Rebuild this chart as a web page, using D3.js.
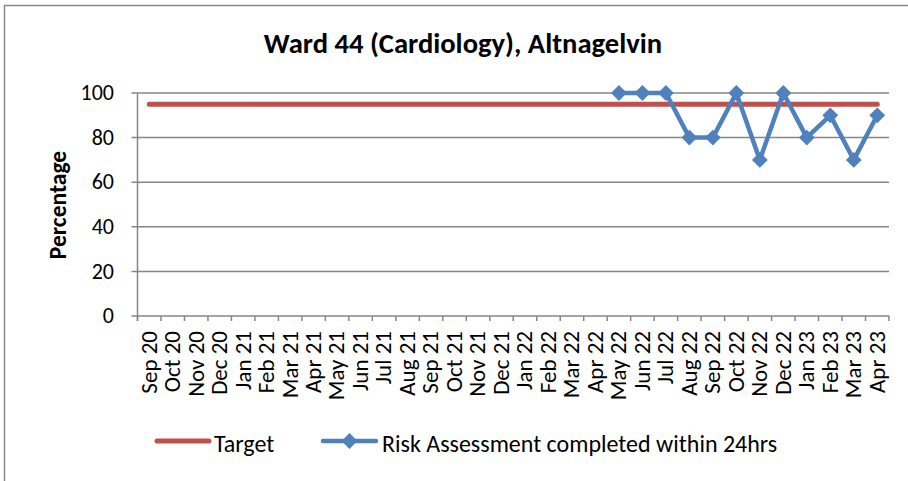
<!DOCTYPE html>
<html><head><meta charset="utf-8">
<script src="https://cdn.jsdelivr.net/npm/d3@7/dist/d3.min.js"></script>
<style>
body{margin:0;background:#fff;}
svg{display:block;}
text{font-family:"Carlito","Calibri","Lato",sans-serif;fill:#000;}
</style></head>
<body><svg id="chart" width="908" height="481"></svg>
<script>
const months = ["Sep 20","Oct 20","Nov 20","Dec 20","Jan 21","Feb 21","Mar 21","Apr 21","May 21","Jun 21","Jul 21","Aug 21","Sep 21","Oct 21","Nov 21","Dec 21","Jan 22","Feb 22","Mar 22","Apr 22","May 22","Jun 22","Jul 22","Aug 22","Sep 22","Oct 22","Nov 22","Dec 22","Jan 23","Feb 23","Mar 23","Apr 23"];
const targetValues = months.map(() => 95);
const riskMonths = ["May 22","Jun 22","Jul 22","Aug 22","Sep 22","Oct 22","Nov 22","Dec 22","Jan 23","Feb 23","Mar 23","Apr 23"];
const riskValues = [100,100,100,80,80,100,70,100,80,90,70,90];
const yTicks = [0,20,40,60,80,100];
const titleText = "Ward 44 (Cardiology), Altnagelvin";
const yTitle = "Percentage";
const legendLabels = ["Target","Risk Assessment completed within 24hrs"];

const svg = d3.select("#chart");
const red = "#C0504D", blue = "#4F81BD", grid = "#868686";

svg.append("rect").attr("x",4.5).attr("y",5.5).attr("width",920).attr("height",490)
  .attr("fill","#fff").attr("stroke","#898989").attr("stroke-width",1.5);

const pLeft = 137.5, pRight = 889, pTop = 93, pBottom = 316;
const x = d3.scaleBand().domain(months).range([pLeft,pRight]);
const y = d3.scaleLinear().domain([0,100]).range([pBottom,pTop]);

svg.append("g").selectAll("line").data(yTicks).join("line")
  .attr("x1",pLeft-6).attr("x2",pRight).attr("y1",d=>y(d)).attr("y2",d=>y(d))
  .attr("stroke",grid).attr("stroke-width",1.5);
svg.append("line").attr("x1",pLeft).attr("x2",pLeft).attr("y1",pTop).attr("y2",pBottom+5)
  .attr("stroke",grid).attr("stroke-width",1.5);
const tickPos = months.map(m=>x(m)).concat([pRight]);
svg.append("g").selectAll("line").data(tickPos).join("line")
  .attr("x1",d=>d).attr("x2",d=>d).attr("y1",pBottom).attr("y2",pBottom+5)
  .attr("stroke",grid).attr("stroke-width",1.5);

svg.append("g").selectAll("text").data(yTicks).join("text")
  .attr("x",114).attr("y",d=>y(d)).attr("dy","0.33em").attr("text-anchor","end")
  .style("font-size","22px").text(d=>d);

svg.append("g").selectAll("text").data(months).join("text")
  .attr("transform",d=>`translate(${x(d)+x.bandwidth()/2},331) rotate(-90)`)
  .attr("dy","0.32em").attr("text-anchor","end").style("font-size","23px").text(d=>d);

svg.append("text").attr("x",463).attr("y",53).attr("text-anchor","middle")
  .style("font-size","28.6px").style("font-weight","bold").text(titleText);
svg.append("text").attr("transform","translate(66,205) rotate(-90)").attr("text-anchor","middle")
  .style("font-size","23.5px").style("font-weight","bold").text(yTitle);

const cx = m => x(m)+x.bandwidth()/2;
svg.append("path").datum(months)
  .attr("d",d3.line().x(m=>cx(m)).y((m,i)=>y(targetValues[i])))
  .attr("fill","none").attr("stroke",red).attr("stroke-width",5).attr("stroke-linecap","round");

svg.append("path").datum(riskMonths)
  .attr("d",d3.line().x(m=>cx(m)).y((m,i)=>y(riskValues[i])))
  .attr("fill","none").attr("stroke",blue).attr("stroke-width",4.5).attr("stroke-linejoin","round");
const diamond = d3.symbol().type(d3.symbolSquare).size(125);
svg.append("g").selectAll("path").data(riskMonths).join("path")
  .attr("transform",(m,i)=>`translate(${cx(m)},${y(riskValues[i])}) rotate(45)`)
  .attr("d",diamond).attr("fill",blue);

const ly = 441;
svg.append("line").attr("x1",157).attr("x2",209).attr("y1",ly).attr("y2",ly)
  .attr("stroke",red).attr("stroke-width",5).attr("stroke-linecap","round");
svg.append("text").attr("x",214).attr("y",452).style("font-size","24px").text(legendLabels[0]);
svg.append("line").attr("x1",323).attr("x2",376).attr("y1",ly).attr("y2",ly)
  .attr("stroke",blue).attr("stroke-width",4.5).attr("stroke-linecap","round");
svg.append("path").attr("transform",`translate(349.5,${ly}) rotate(45)`).attr("d",diamond).attr("fill",blue);
svg.append("text").attr("x",382).attr("y",452).style("font-size","24px").text(legendLabels[1]);
</script></body></html>
